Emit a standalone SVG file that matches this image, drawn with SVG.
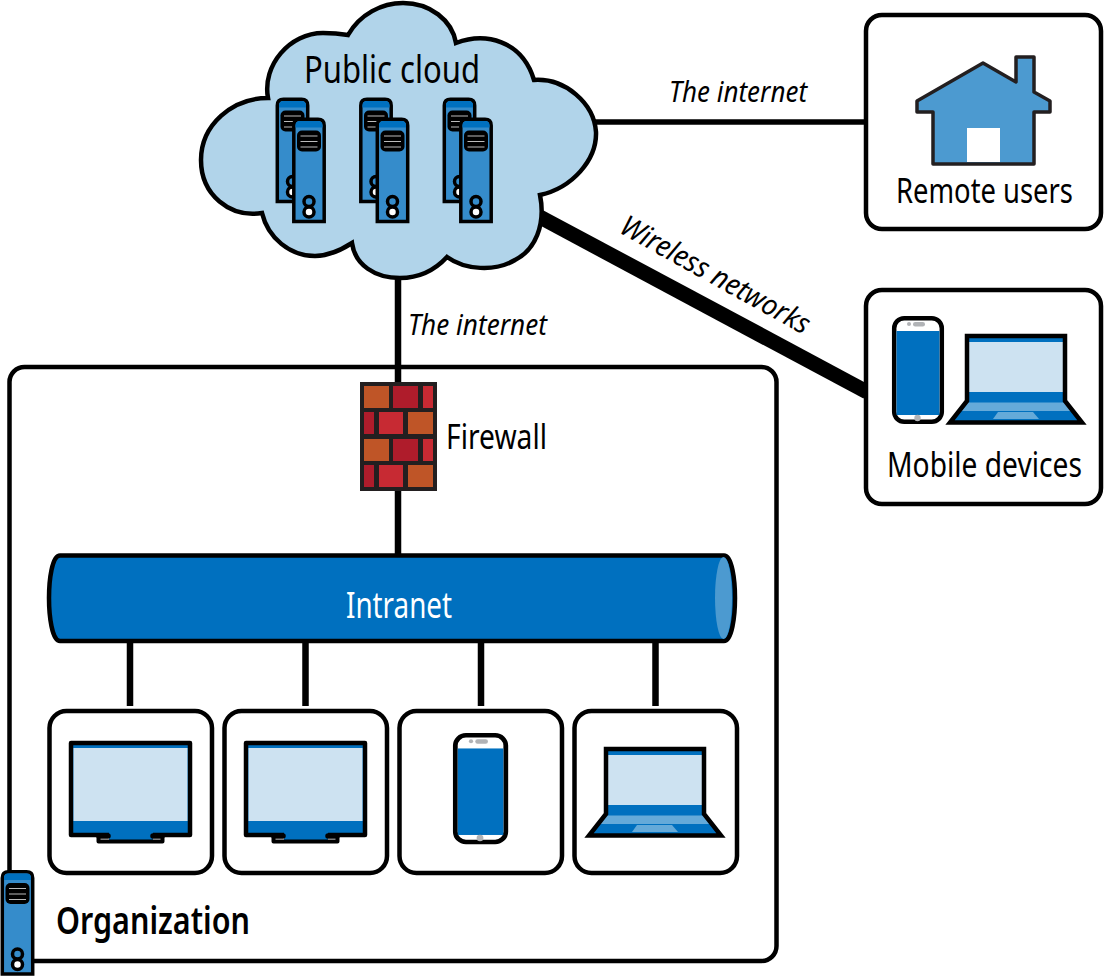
<svg xmlns="http://www.w3.org/2000/svg" width="1104" height="977" viewBox="0 0 1104 977">
<style>
text{font-family:"Noto Sans","Liberation Sans",sans-serif;fill:#000}
.lbl{font-size:38px}
.it{font-size:29px;font-style:italic}
.box{fill:#fff;stroke:#000;stroke-width:4.5}
.conn{stroke:#000;fill:none}
.brick-o{fill:#bf5527}.brick-d{fill:#af1c2b}.brick-r{fill:#c72a33}
</style>
<defs>
<g id="server">
<path d="M1.800,104V8Q1.800,1.800 8,1.800H26Q32.200,1.800 32.200,8V104Z" fill="#358ccb" stroke="#000" stroke-width="3.500"/>
<path d="M3.500,10V8Q3.500,3.500 8,3.500H26Q30.500,3.500 30.500,8V10Z" fill="#0070bf"/>
<rect x="5" y="13" width="24" height="21" rx="5" fill="#000"/>
<path d="M8.500,18.500H25.500M8.500,24H25.500M8.500,29.500H25.500" stroke="#bbb" stroke-width="1"/>
<circle cx="17" cy="84" r="5" fill="#358ccb" stroke="#000" stroke-width="3.500"/>
<circle cx="17" cy="94.500" r="5" fill="#fff" stroke="#000" stroke-width="3.500"/>
</g>
<g id="serverpair">
<use href="#server"/>
<use href="#server" x="16.500" y="20"/>
</g>
<g id="phone">
<rect x="2.200" y="2.200" width="47.600" height="103.600" rx="10" fill="#fff" stroke="#000" stroke-width="4.500"/>
<rect x="4.500" y="15" width="43" height="84" fill="#0070bf"/>
<rect x="15" y="6" width="4" height="4" rx="2" fill="#b1b3b6"/>
<rect x="21" y="6" width="12" height="4.500" rx="2.200" fill="#b1b3b6"/>
<circle cx="25.500" cy="102" r="3.200" fill="#b1b3b6"/>
</g>
<g id="laptop">
<path d="M2,2H100V68L118,89H-15L2,68Z" fill="#0070bf"/>
<rect x="4" y="8" width="94" height="50" fill="#cde2f1"/>
<path d="M3,68.500H100L107,77H-3.500Z" fill="#65aad9"/>
<path d="M33,78H68L74,85H28Z" fill="#65aad9"/>
<path d="M2,2H100V67L117,88.500H-15L2,67Z" fill="none" stroke="#000" stroke-width="4.500"/>
</g>
<g id="monitor">
<rect x="2" y="2" width="119" height="92" fill="#0070bf" stroke="#000" stroke-width="4.500" stroke-linejoin="round"/>
<rect x="4.500" y="7" width="114" height="73" fill="#cde2f1"/>
<rect x="40" y="90" width="44" height="9" fill="#0070bf"/>
<path d="M30,95H39M84,95H93" stroke="#000" stroke-width="5.500" stroke-linecap="round"/>
<path d="M29.500,95V100.500H93.500V95" fill="none" stroke="#000" stroke-width="4" stroke-linejoin="round"/>
</g>
<g id="bricks">
<rect class="brick-o" x="4" y="0" width="25" height="22"/>
<rect class="brick-d" x="33" y="0" width="25" height="22"/>
<rect class="brick-r" x="63" y="0" width="10" height="22"/>
<rect class="brick-d" x="4" y="26" width="10" height="22"/>
<rect class="brick-r" x="19" y="26" width="24" height="22"/>
<rect class="brick-o" x="48" y="26" width="25" height="22"/>
</g>
</defs>

<g id="organization">
<rect class="box" x="9.500" y="367" width="767" height="594" rx="15"/>
<text x="56" y="934" font-size="38" font-weight="600" textLength="194" lengthAdjust="spacingAndGlyphs">Organization</text>
</g>

<g id="connectors">
<path class="conn" stroke-width="6.500" d="M398,276V384M398,490V556"/>
<path class="conn" stroke-width="6.500" d="M130,640V706M305.500,640V706M481,640V706M655.500,640V706"/>
<path class="conn" stroke-width="5.500" d="M594,122H866"/>
<path class="conn" stroke-width="15" d="M540,217L867,392"/>
<text class="it" x="669" y="102" textLength="138" lengthAdjust="spacingAndGlyphs">The internet</text>
<text class="it" x="408" y="335" textLength="139" lengthAdjust="spacingAndGlyphs">The internet</text>
<text class="it" transform="translate(618,232) rotate(29)" textLength="212" lengthAdjust="spacingAndGlyphs">Wireless networks</text>
</g>

<g id="public-cloud">
<path d="M348,35C360,14 382,3 403,3C430,3 452,20 456,43C485,32 522,40 534,80C565,78 594,103 596,132C597,160 572,188 540,195C546,225 535,250 515,260C495,272 465,270 447,257C435,270 420,278 400,278C375,278 355,265 352,243C338,252 327,256 315,256C290,256 268,238 262,213C230,218 201,195 201,160C201,125 232,98 268,98C262,65 290,33 323,33C333,33 342,34 348,35Z" fill="#b1d4ea" stroke="#000" stroke-width="4.500"/>
<text class="lbl" x="304" y="83" font-size="39" textLength="176" lengthAdjust="spacingAndGlyphs">Public cloud</text>
<use href="#serverpair" x="275.500" y="97.500"/>
<use href="#serverpair" x="359" y="97.500"/>
<use href="#serverpair" x="442.500" y="97.500"/>
</g>

<g id="remote-users">
<rect class="box" x="866" y="15" width="235" height="214" rx="16"/>
<path d="M917,101L983,63L1016,82V57H1034V92L1050,101V112H1034V164H933V112H917Z" fill="#4c9ad0" stroke="#231f20" stroke-width="3.500" stroke-linejoin="round"/>
<rect x="967" y="128" width="33" height="34" fill="#fff"/>
<text transform="translate(896,203) scale(.84,1)" style="font-size:35px" textLength="210.700" lengthAdjust="spacingAndGlyphs">Remote users</text>
</g>

<g id="mobile-devices">
<rect class="box" x="866" y="290" width="235" height="214" rx="16"/>
<use href="#phone" x="892" y="316"/>
<use href="#laptop" x="965" y="334"/>
<text transform="translate(887,477) scale(.81,1)" style="font-size:35px" textLength="240.700" lengthAdjust="spacingAndGlyphs">Mobile devices</text>
</g>

<g id="firewall">
<rect x="360" y="382" width="77" height="109" fill="#231f20"/>
<use href="#bricks" x="360" y="386"/>
<use href="#bricks" x="360" y="439"/>
<text x="446" y="449" style="font-size:34px" textLength="101" lengthAdjust="spacingAndGlyphs">Firewall</text>
</g>

<g id="intranet">
<path d="M60,555.500H724C732,555.500 735,580 735,598C735,616 732,641 724,641H60C52,641 49,616 49,598C49,580 52,555.500 60,555.500Z" fill="#0070bf" stroke="#000" stroke-width="4.500"/>
<ellipse cx="723.500" cy="598" rx="8.500" ry="41" fill="#4c9ad0"/>
<text x="346" y="618" style="fill:#fff;font-size:36px" textLength="106" lengthAdjust="spacingAndGlyphs">Intranet</text>
</g>

<g id="device-monitor-1">
<rect class="box" x="49.500" y="711" width="162.500" height="162" rx="17"/>
<use href="#monitor" x="69" y="741"/>
</g>
<g id="device-monitor-2">
<rect class="box" x="224.500" y="711" width="162.500" height="162" rx="17"/>
<use href="#monitor" x="244" y="741"/>
</g>
<g id="device-phone">
<rect class="box" x="399.500" y="711" width="162.500" height="162" rx="17"/>
<use href="#phone" transform="translate(453,733) scale(1.060,1.030)"/>
</g>
<g id="device-laptop">
<rect class="box" x="574.500" y="711" width="162.500" height="162" rx="17"/>
<use href="#laptop" x="604" y="747"/>
</g>

<g id="organization-server">
<use href="#server" x="0.500" y="870"/>
</g>
</svg>
